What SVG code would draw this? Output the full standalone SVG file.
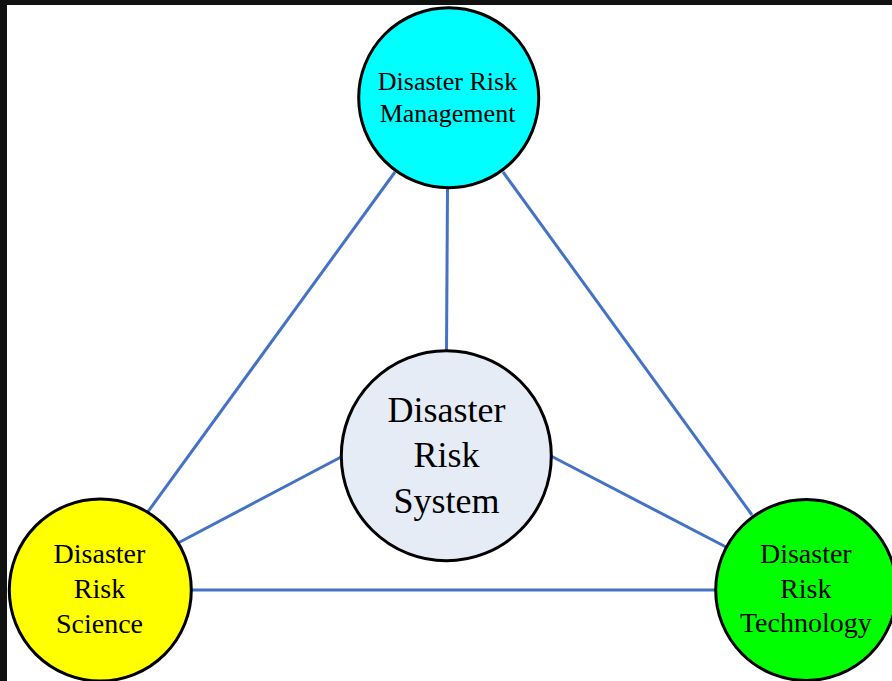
<svg xmlns="http://www.w3.org/2000/svg" width="892" height="681" viewBox="0 0 892 681">
<style>
.node{stroke:#000;stroke-width:3}
.lbl{font-family:"Liberation Serif","Times New Roman",serif;fill:#000;text-anchor:middle}
.conn line{stroke:#4472C4;stroke-width:3;stroke-linecap:butt}
</style>
<rect x="0" y="0" width="892" height="681" fill="#fff"/>
<rect x="0" y="0" width="892" height="5" fill="#111"/>
<rect x="0" y="0" width="7" height="681" fill="#111"/>
<g id="connectors" class="conn">
<line x1="447.5" y1="188" x2="446.5" y2="351"/>
<line x1="395" y1="172" x2="147" y2="513"/>
<line x1="503" y1="172" x2="752" y2="515"/>
<line x1="343" y1="456" x2="178" y2="543"/>
<line x1="551" y1="456" x2="726" y2="547"/>
<line x1="191" y1="590" x2="716" y2="590"/>
</g>
<g id="management">
<circle class="node" cx="448.7" cy="97.7" r="90" fill="#00FFFF"/>
<text class="lbl" font-size="26" x="447.5" y="90">Disaster Risk</text>
<text class="lbl" font-size="26" x="447.5" y="122">Management</text>
</g>
<g id="system">
<circle class="node" cx="446.3" cy="455.8" r="105" fill="#E6ECF6"/>
<text class="lbl" font-size="36" x="446.5" y="421.5">Disaster</text>
<text class="lbl" font-size="36" x="446.5" y="466.5">Risk</text>
<text class="lbl" font-size="36" x="446.5" y="512.5">System</text>
</g>
<g id="science">
<circle class="node" cx="100.3" cy="590" r="91" fill="#FFFF00"/>
<text class="lbl" font-size="28" x="99.5" y="563.3">Disaster</text>
<text class="lbl" font-size="28" x="99.5" y="597.7">Risk</text>
<text class="lbl" font-size="28" x="99.5" y="632.5">Science</text>
</g>
<g id="technology">
<circle class="node" cx="806.2" cy="590" r="90.5" fill="#00FF00"/>
<text class="lbl" font-size="28" x="805.8" y="563.3">Disaster</text>
<text class="lbl" font-size="28" x="805.8" y="597.7">Risk</text>
<text class="lbl" font-size="28" x="805.8" y="632">Technology</text>
</g>
</svg>
